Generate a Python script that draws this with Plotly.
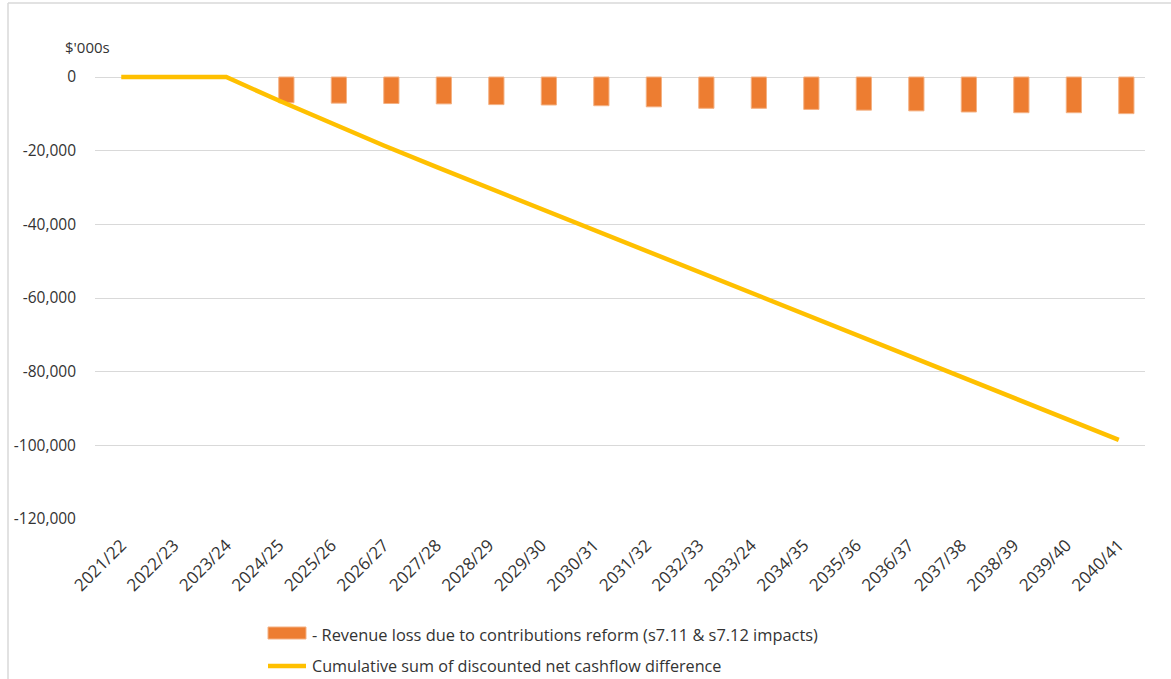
import plotly.graph_objects as go

categories = ["2021/22", "2022/23", "2023/24", "2024/25", "2025/26", "2026/27", "2027/28",
              "2028/29", "2029/30", "2030/31", "2031/32", "2032/33", "2033/24", "2034/35",
              "2035/36", "2036/37", "2037/38", "2038/39", "2039/40", "2040/41"]

revenue_loss = [None, None, None, -7000, -7100, -7200, -7300, -7500, -7600, -7800,
                -8100, -8500, -8500, -8800, -9000, -9200, -9500, -9700, -9700, -9950]

cumulative = [0, 0, 0, -6400, -12600, -18600, -24400, -30100, -35900, -41600,
              -47400, -53100, -58800, -64400, -70000, -75600, -81300, -87000, -92700, -98500]

y_tickvals = [0, -20000, -40000, -60000, -80000, -100000, -120000]
y_ticktext = ["0", "-20,000", "-40,000", "-60,000", "-80,000", "-100,000", "-120,000"]

series_names = ["- Revenue loss due to contributions reform (s7.11 &amp; s7.12 impacts)",
                "Cumulative sum of discounted net cashflow difference"]

BAR_COLOR = "#ED7D31"
LINE_COLOR = "#FFC000"

W, H = 1171, 679
ML, MR, MT, MB = 95, 26, 70, 160
PW, PH = W - ML - MR, H - MT - MB

def px_x(p):
    return (p - ML) / PW

def px_y(p):
    return (H - MB - p) / PH

FONT = "Open Sans"
TXT = "#333333"

fig = go.Figure()
fig.add_trace(go.Bar(
    x=categories, y=revenue_loss, name=series_names[0], showlegend=False,
    marker=dict(color=BAR_COLOR, line=dict(color="#F4B183", width=1)),
    width=0.29, offset=0.0,
))
fig.add_trace(go.Scatter(
    x=categories, y=cumulative, name=series_names[1], mode="lines", showlegend=False,
    line=dict(color=LINE_COLOR, width=4.5),
))

# custom legend (swatches + text)
legend_shapes = [
    dict(type="rect", xref="paper", yref="paper", x0=px_x(268), x1=px_x(306),
         y0=px_y(627), y1=px_y(639), fillcolor=BAR_COLOR, line=dict(color="#F4B183", width=1)),
    dict(type="line", xref="paper", yref="paper", x0=px_x(268), x1=px_x(306),
         y0=px_y(666), y1=px_y(666), line=dict(color=LINE_COLOR, width=4.5)),
]
legend_ann = [
    dict(text=series_names[0], xref="paper", yref="paper", x=px_x(310), y=px_y(634),
         xanchor="left", yanchor="middle", showarrow=False,
         font=dict(family=FONT, size=16.4, color=TXT)),
    dict(text=series_names[1], xref="paper", yref="paper", x=px_x(310), y=px_y(666),
         xanchor="left", yanchor="middle", showarrow=False,
         font=dict(family=FONT, size=16.2, color=TXT)),
]

fig.update_layout(
    width=W, height=H,
    margin=dict(l=ML, r=MR, t=MT, b=MB, autoexpand=False),
    paper_bgcolor="white", plot_bgcolor="white",
    font=dict(family=FONT, size=15, color=TXT),
    showlegend=False,
    xaxis=dict(
        type="category", range=[-0.5, 19.5], tickangle=-45,
        showgrid=False, showline=False, ticks="", zeroline=False,
        ticklabelstandoff=12,
        tickfont=dict(family=FONT, size=17, color=TXT),
    ),
    yaxis=dict(
        range=[-120000, 1900], tickvals=y_tickvals, ticktext=y_ticktext,
        showgrid=True, gridcolor="#D9D9D9", gridwidth=1.3, zeroline=False,
        showline=False, ticks="", ticklabelstandoff=18,
        tickfont=dict(family=FONT, size=15.5, color=TXT),
    ),
    annotations=[dict(
        text="$'000s", xref="paper", yref="paper", x=px_x(63), y=px_y(47),
        xanchor="left", yanchor="middle", showarrow=False,
        font=dict(family=FONT, size=15, color=TXT),
    )] + legend_ann,
    shapes=[
        dict(type="line", xref="paper", yref="paper", x0=px_x(8), x1=px_x(8),
             y0=px_y(3), y1=px_y(679), line=dict(color="#D9D9D9", width=1.5)),
        dict(type="line", xref="paper", yref="paper", x0=px_x(8), x1=px_x(1171),
             y0=px_y(3), y1=px_y(3), line=dict(color="#D9D9D9", width=1.5)),
    ] + legend_shapes,
)

fig.write_html("out.html")
